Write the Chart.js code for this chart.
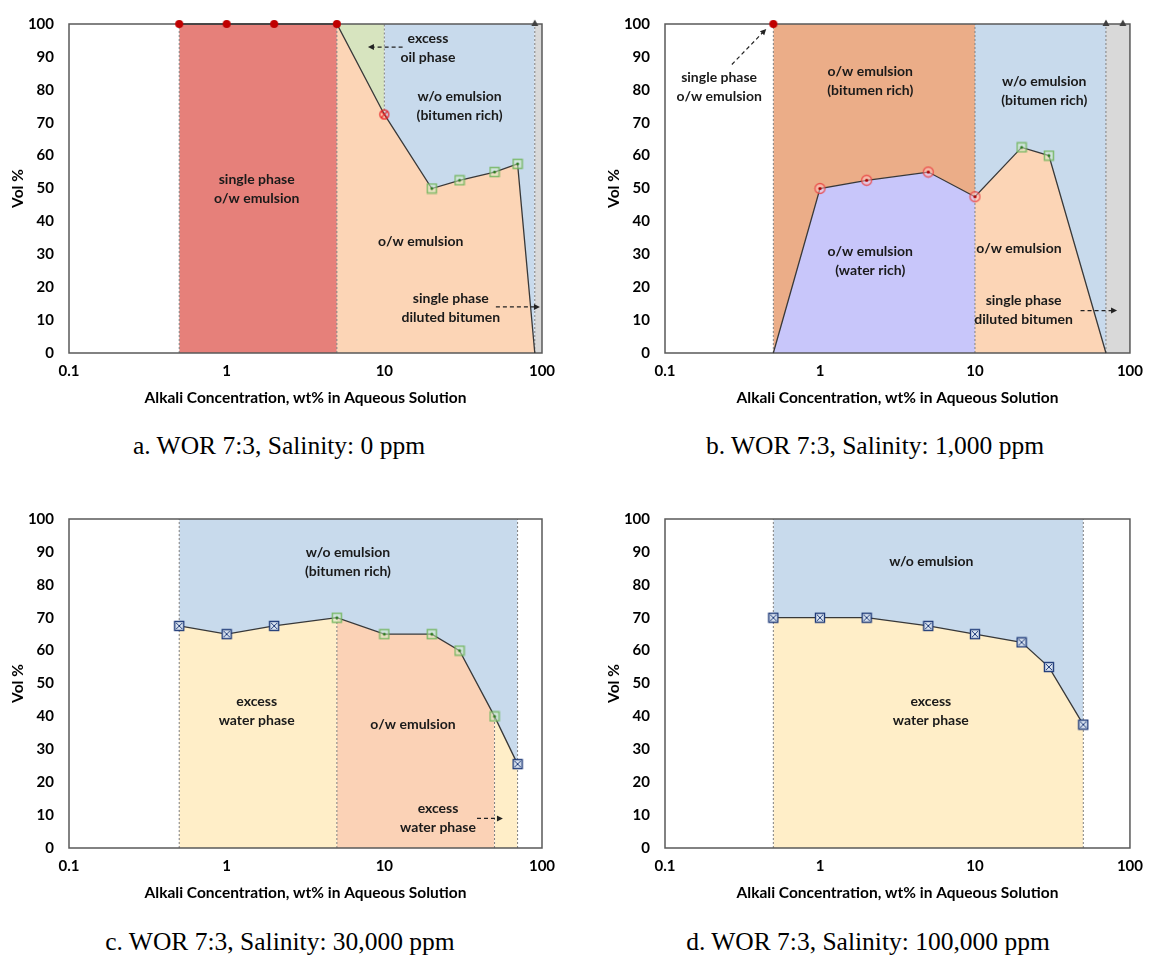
<!DOCTYPE html>
<html>
<head>
<meta charset="utf-8">
<script src="https://cdn.jsdelivr.net/npm/chart.js@4.4.1/dist/chart.umd.min.js"></script>
<style>
  body { margin: 0; background: #fff; width: 1152px; height: 956px; position: relative; overflow: hidden; }
  .panel { position: absolute; width: 576px; height: 420px; }
  .caption { position: absolute; width: 576px; text-align: center; font-family: "Liberation Serif", "Times New Roman", serif; font-size: 25.5px; line-height: 28px; color: #000; }
</style>
</head>
<body>
<div class="panel" style="left:0;top:0"><canvas id="chartA"></canvas></div>
<div class="panel" style="left:576px;top:0"><canvas id="chartB"></canvas></div>
<div class="panel" style="left:0;top:495px"><canvas id="chartC"></canvas></div>
<div class="panel" style="left:576px;top:495px"><canvas id="chartD"></canvas></div>
<div class="caption" style="left:-9px;top:432px">a. WOR 7:3, Salinity: 0 ppm</div>
<div class="caption" style="left:587px;top:432px">b. WOR 7:3, Salinity: 1,000 ppm</div>
<div class="caption" style="left:-8px;top:928px">c. WOR 7:3, Salinity: 30,000 ppm</div>
<div class="caption" style="left:580px;top:928px">d. WOR 7:3, Salinity: 100,000 ppm</div>
<script>
const X_TICKS = [0.1, 1, 10, 100];
const Y_TICKS = [0, 10, 20, 30, 40, 50, 60, 70, 80, 90, 100];

// a. salinity 0 ppm
const aConc = [0.5, 1, 2, 5, 10, 20, 30, 50, 70, 90];
const aVol = [100, 100, 100, 100, 72.5, 50, 52.5, 55, 57.5, 0];
// b. salinity 1,000 ppm
const bConc = [0.5, 1, 2, 5, 10, 20, 30, 70];
const bVol = [0, 50, 52.5, 55, 47.5, 62.5, 60, 0];
// c. salinity 30,000 ppm
const cConc = [0.5, 1, 2, 5, 10, 20, 30, 50, 70];
const cVol = [67.5, 65, 67.5, 70, 65, 65, 60, 40, 25.5];
// d. salinity 100,000 ppm
const dConc = [0.5, 1, 2, 5, 10, 20, 30, 50];
const dVol = [70, 70, 70, 67.5, 65, 62.5, 55, 37.5];

const RED = '#E6807A', GREEN = '#D7E4BF', BLUE = '#C8DAEC', PEACH = '#FCD5B6',
      GRAY = '#D9D9D9', ORANGE = '#EBAD88', PURPLE = '#C8C6FA', YELLOW = '#FFEEC8', SALMON = '#FBD2B6';

// marker glyphs
function mk(size, draw) {
  const c = document.createElement('canvas');
  c.width = c.height = size;
  draw(c.getContext('2d'), size / 2);
  return c;
}
const MARK = {
  dot: mk(10, (g, c) => { g.fillStyle = '#C00000'; g.beginPath(); g.arc(c, c, 4, 0, 2 * Math.PI); g.fill(); }),
  otimes: mk(12, (g, c) => {
    g.strokeStyle = '#E8262A'; g.lineWidth = 1.3;
    g.beginPath(); g.arc(c, c, 4.5, 0, 2 * Math.PI); g.stroke();
    g.beginPath(); g.moveTo(c - 3, c - 3); g.lineTo(c + 3, c + 3); g.moveTo(c + 3, c - 3); g.lineTo(c - 3, c + 3); g.stroke();
  }),
  ring: mk(13, (g, c) => {
    g.fillStyle = 'rgba(255,200,200,0.5)'; g.strokeStyle = 'rgba(232,60,60,0.8)'; g.lineWidth = 1.3;
    g.beginPath(); g.arc(c, c, 5, 0, 2 * Math.PI); g.fill(); g.stroke();
    g.fillStyle = '#B00000'; g.beginPath(); g.arc(c, c, 1.6, 0, 2 * Math.PI); g.fill();
  }),
  sq: mk(12, (g, c) => {
    g.fillStyle = 'rgba(220,240,210,0.5)'; g.strokeStyle = 'rgba(110,180,90,0.85)'; g.lineWidth = 1.5;
    g.fillRect(1.5, 1.5, 9, 9); g.strokeRect(1.5, 1.5, 9, 9);
    g.fillStyle = '#2E7D1F'; g.beginPath(); g.arc(c, c, 1.5, 0, 2 * Math.PI); g.fill();
  }),
  xsq: mk(12, (g, c) => {
    g.fillStyle = '#DCE6F2'; g.strokeStyle = '#1F3A78'; g.lineWidth = 1.4;
    g.fillRect(1.5, 1.5, 9, 9); g.strokeRect(1.5, 1.5, 9, 9);
    g.lineWidth = 1; g.beginPath();
    g.moveTo(3, 3); g.lineTo(9, 9); g.moveTo(9, 3); g.lineTo(3, 9); g.stroke();
  }),
  tri: mk(10, (g, c) => { g.fillStyle = '#404040'; g.beginPath(); g.moveTo(c, 0.5); g.lineTo(c + 3.5, 7); g.lineTo(c - 3.5, 7); g.closePath(); g.fill(); })
};

const panels = [
  {
    id: 'chartA', axisW: 69, padR: 34, conc: aConc, vol: aVol,
    marks: ['dot', 'dot', 'dot', 'dot', 'otimes', 'sq', 'sq', 'sq', 'sq', null],
    extra: [{x: 90, y: 100, m: 'tri'}],
    regions: [
      {lo: 0.5, hi: 5, side: 'full', color: RED},
      {lo: 5, hi: 10, side: 'above', color: GREEN},
      {lo: 10, hi: 90, side: 'above', color: BLUE},
      {lo: 5, hi: 90, side: 'below', color: PEACH},
      {lo: 90, hi: 100, side: 'full', color: GRAY}
    ],
    vlines: [[0.5, 0, 100], [5, 0, 100], [10, 72.5, 100], [90, 0, 100]],
    arrows: [[13.06, 93, 7.87, 93], [51, 14, 97, 14]],
    texts: [
      [1.55, 50, ['single phase', 'o/w emulsion']],
      [18.9, 92.7, ['excess', 'oil phase']],
      [30, 75, ['w/o emulsion', '(bitumen rich)']],
      [17, 33.8, ['o/w emulsion']],
      [26.4, 13.6, ['single phase', 'diluted bitumen']]
    ]
  },
  {
    id: 'chartB', axisW: 89, padR: 14, conc: bConc, vol: bVol,
    marks: [null, 'ring', 'ring', 'ring', 'ring', 'sq', 'sq', null],
    extra: [{x: 0.5, y: 100, m: 'dot'}, {x: 70, y: 100, m: 'tri'}, {x: 90, y: 100, m: 'tri'}],
    regions: [
      {lo: 0.5, hi: 10, side: 'above', color: ORANGE},
      {lo: 0.5, hi: 10, side: 'below', color: PURPLE},
      {lo: 10, hi: 70, side: 'above', color: BLUE},
      {lo: 10, hi: 70, side: 'below', color: PEACH},
      {lo: 70, hi: 100, side: 'full', color: GRAY}
    ],
    vlines: [[0.5, 0, 100], [10, 0, 100], [70, 0, 100]],
    arrows: [[0.27, 87.7, 0.45, 98.5], [48, 12.9, 82.6, 12.9]],
    texts: [
      [0.2235, 81, ['single phase', 'o/w emulsion']],
      [2.11, 82.8, ['o/w emulsion', '(bitumen rich)']],
      [28, 79.5, ['w/o emulsion', '(bitumen rich)']],
      [2.11, 28.1, ['o/w emulsion', '(water rich)']],
      [19.2, 31.7, ['o/w emulsion']],
      [20.6, 13.2, ['single phase', 'diluted bitumen']]
    ]
  },
  {
    id: 'chartC', axisW: 69, padR: 34, conc: cConc, vol: cVol,
    marks: ['xsq', 'xsq', 'xsq', 'sq', 'sq', 'sq', 'sq', 'sq', 'xsq'],
    extra: [],
    regions: [
      {lo: 0.5, hi: 70, side: 'above', color: BLUE},
      {lo: 0.5, hi: 5, side: 'below', color: YELLOW},
      {lo: 5, hi: 50, side: 'below', color: SALMON},
      {lo: 50, hi: 70, side: 'below', color: YELLOW}
    ],
    vlines: [[0.5, 0, 100], [5, 0, 70], [50, 0, 40], [70, 0, 100]],
    arrows: [[38.7, 9, 56.5, 9]],
    texts: [
      [5.88, 87, ['w/o emulsion', '(bitumen rich)']],
      [1.55, 41.6, ['excess', 'water phase']],
      [15.2, 37.4, ['o/w emulsion']],
      [21.9, 9.1, ['excess', 'water phase']]
    ]
  },
  {
    id: 'chartD', axisW: 89, padR: 14, conc: dConc, vol: dVol,
    marks: ['xsq', 'xsq', 'xsq', 'xsq', 'xsq', 'xsq', 'xsq', 'xsq'],
    extra: [],
    regions: [
      {lo: 0.5, hi: 50, side: 'above', color: BLUE},
      {lo: 0.5, hi: 50, side: 'below', color: YELLOW}
    ],
    vlines: [[0.5, 0, 100], [50, 0, 100]],
    arrows: [],
    texts: [
      [5.23, 87.1, ['w/o emulsion']],
      [5.19, 41.6, ['excess', 'water phase']]
    ]
  }
];

function drawFrame(chart) {
  const {ctx, chartArea: a} = chart;
  ctx.save();
  ctx.strokeStyle = '#595959';
  ctx.lineWidth = 1.5;
  ctx.strokeRect(a.left, a.top, a.right - a.left, a.bottom - a.top);
  ctx.restore();
}

const decor = {
  id: 'decor',
  beforeDatasetsDraw(chart) { chart.$frame = false; },
  beforeDatasetDraw(chart, args) {
    if (!chart.$frame && args.meta.order <= 2) { drawFrame(chart); chart.$frame = true; }
  },
  afterDatasetsDraw(chart, args, opts) {
    if (!chart.$frame) drawFrame(chart);
    const {ctx, scales: {x, y}} = chart;
    ctx.save();
    // dashed arrows
    ctx.strokeStyle = '#222';
    ctx.fillStyle = '#222';
    ctx.lineWidth = 1.2;
    opts.arrows.forEach(([x0, y0, x1, y1]) => {
      const px0 = x.getPixelForValue(x0), py0 = y.getPixelForValue(y0);
      const px1 = x.getPixelForValue(x1), py1 = y.getPixelForValue(y1);
      const ang = Math.atan2(py1 - py0, px1 - px0);
      ctx.setLineDash([4, 3]);
      ctx.beginPath();
      ctx.moveTo(px0, py0);
      ctx.lineTo(px1 - 5 * Math.cos(ang), py1 - 5 * Math.sin(ang));
      ctx.stroke();
      ctx.setLineDash([]);
      ctx.beginPath();
      ctx.moveTo(px1, py1);
      ctx.lineTo(px1 - 6 * Math.cos(ang) + 3 * Math.sin(ang), py1 - 6 * Math.sin(ang) - 3 * Math.cos(ang));
      ctx.lineTo(px1 - 6 * Math.cos(ang) - 3 * Math.sin(ang), py1 - 6 * Math.sin(ang) + 3 * Math.cos(ang));
      ctx.closePath();
      ctx.fill();
    });
    // region labels
    ctx.font = 'bold 14px Lato';
    ctx.textAlign = 'center';
    ctx.textBaseline = 'middle';
    ctx.fillStyle = '#1a1a1a';
    opts.texts.forEach(([tx, ty, lines]) => {
      const px = x.getPixelForValue(tx), py = y.getPixelForValue(ty);
      const lh = 19;
      lines.forEach((t, i) => ctx.fillText(t, px, py + (i - (lines.length - 1) / 2) * lh));
    });
    ctx.restore();
  }
};

function segment(xs, ys, lo, hi) {
  const pts = [];
  xs.forEach((v, i) => { if (v >= lo && v <= hi) pts.push({x: v, y: ys[i]}); });
  return pts;
}

function build(p) {
  const datasets = [];
  // curve with its markers
  datasets.push({
    data: p.conc.map((v, i) => ({x: v, y: p.vol[i]})),
    borderColor: '#383838', borderWidth: 1.3, fill: false, tension: 0,
    pointStyle: p.marks.map(m => m ? MARK[m] : 'circle'),
    pointRadius: p.marks.map(m => m ? 5 : 0),
    order: 2, clip: false
  });
  if (p.extra.length) {
    datasets.push({
      data: p.extra.map(e => ({x: e.x, y: e.y})),
      showLine: false, fill: false,
      pointStyle: p.extra.map(e => MARK[e.m]),
      pointRadius: 5,
      order: 1, clip: false
    });
  }
  p.vlines.forEach(([vx, y0, y1]) => {
    datasets.push({
      data: [{x: vx, y: y0}, {x: vx, y: y1}],
      borderColor: '#7F7F7F', borderWidth: 1, borderDash: [2, 2],
      pointRadius: 0, fill: false, order: 3
    });
  });
  p.regions.forEach(r => {
    const full = r.side === 'full';
    datasets.push({
      data: full ? [{x: r.lo, y: 100}, {x: r.hi, y: 100}] : segment(p.conc, p.vol, r.lo, r.hi),
      fill: r.side === 'above' ? 'end' : 'start',
      backgroundColor: r.color, borderWidth: 0, pointRadius: 0, tension: 0, order: 4
    });
  });

  const tickFont = {family: 'Lato', size: 15, weight: 'bold'};
  new Chart(document.getElementById(p.id), {
    type: 'line',
    data: {datasets},
    plugins: [decor],
    options: {
      responsive: true,
      maintainAspectRatio: false,
      animation: false,
      layout: {padding: {left: 0, right: p.padR, top: 19, bottom: 0}},
      plugins: {
        legend: {display: false},
        tooltip: {enabled: false},
        decor: {arrows: p.arrows, texts: p.texts}
      },
      scales: {
        x: {
          type: 'logarithmic', min: 0.1, max: 100,
          afterBuildTicks: s => { s.ticks = X_TICKS.map(v => ({value: v})); },
          afterFit: s => { s.height = 67; },
          grid: {display: false, drawTicks: false},
          border: {display: false},
          ticks: {color: '#000', font: tickFont, padding: 9, autoSkip: false, maxRotation: 0, callback: v => String(v)},
          title: {display: true, text: 'Alkali Concentration, wt% in Aqueous Solution', color: '#000',
                  font: {family: 'Lato', size: 15.5, weight: 'bold'}, padding: {top: 0, bottom: 13}}
        },
        y: {
          min: 0, max: 100,
          afterBuildTicks: s => { s.ticks = Y_TICKS.map(v => ({value: v})); },
          afterFit: s => { s.width = p.axisW; },
          grid: {display: false, drawTicks: false},
          border: {display: false},
          ticks: {color: '#000', font: tickFont, padding: 15},
          title: {display: true, text: 'Vol %', color: '#000',
                  font: {family: 'Lato', size: 15.5, weight: 'bold'}, padding: {top: p.axisW - 60, bottom: 0}}
        }
      }
    }
  });
}

panels.forEach(build);
</script>
</body>
</html>
